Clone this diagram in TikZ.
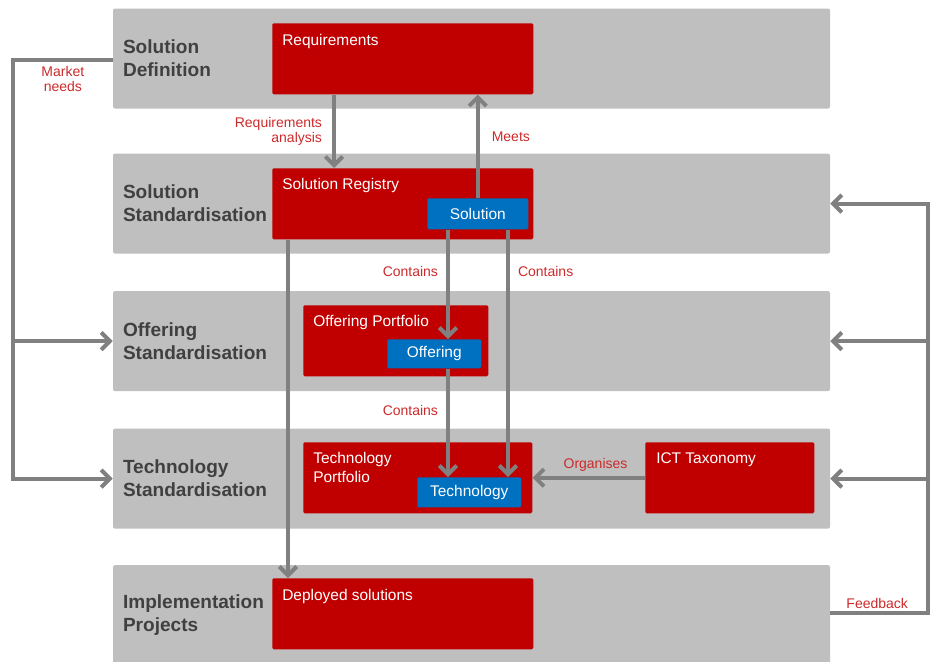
\documentclass[tikz,border=0pt]{standalone}
\usepackage{fontspec}
\setmainfont{Liberation Sans}
\usetikzlibrary{positioning,arrows.meta}
\definecolor{bandgray}{HTML}{BFBFBF}
\definecolor{boxred}{HTML}{C00000}
\definecolor{itemblue}{HTML}{0070C0}
\definecolor{linegray}{HTML}{808080}
\definecolor{titlegray}{HTML}{404040}
\definecolor{lblred}{HTML}{CC2A2A}
\tikzstyle{band} = [fill=bandgray, rounded corners=1.5pt,
    minimum width=537.75pt, minimum height=75pt, inner sep=7.5pt,
    text width=522.75pt, align=left, text=titlegray,
    font=\fontsize{14.3}{17.25}\selectfont\bfseries]
\tikzstyle{block} = [fill=boxred, rounded corners=1pt,
    minimum height=53.25pt, anchor=north west]
\tikzstyle{item} = [fill=itemblue, rounded corners=1pt, text=white,
    font=\fontsize{11.6}{14}\selectfont, anchor=north west, inner sep=0pt]
\tikzstyle{boxtext} = [text=white, font=\fontsize{11.6}{14.25}\selectfont,
    anchor=base west, inner sep=0pt, align=left]
\tikzstyle{lbl} = [text=lblred, font=\fontsize{10.5}{11.25}\selectfont, inner sep=1pt]
\tikzstyle{link} = [draw=linegray, line width=3pt, ->]

\begin{document}
\begin{tikzpicture}[x=0.75pt, y=-0.75pt, >={Straight Barb[length=6.5pt,width=13pt]}]
    \useasboundingbox (0,0) rectangle (934,661);
    % The five layers, one below the other
    \node [band] (sdef) at (471.5,58.5) {Solution\\Definition};
    \node [band, below=33.4pt of sdef] (sstd) {Solution\\Standardisation};
    \node [band, below=27.75pt of sstd] (ostd) {Offering\\Standardisation};
    \node [band, below=27.75pt of ostd] (tstd) {Technology\\Standardisation};
    \node [band, below=27pt of tstd] (impl) {Implementation\\Projects};

    % The red containers and their titles
    \node [block, minimum width=195.75pt] (req) at (272,23) {};
    \node [boxtext] (reqt) at (282,45.5) {Requirements};
    \node [block, minimum width=195.75pt] (reg) at (272,168) {};
    \node [boxtext] (regt) at (282,189.5) {Solution Registry};
    \node [block, minimum width=138.75pt] (offp) at (303,305) {};
    \node [boxtext] (offpt) at (313,326.5) {Offering Portfolio};
    \node [block, minimum width=171.75pt] (techp) at (303,442) {};
    \node [boxtext, anchor=north west] (techpt) at (313,452) {Technology\\Portfolio};
    \node [block, minimum width=126.75pt] (ict) at (645,442) {};
    \node [boxtext] (ictt) at (656,463.5) {ICT Taxonomy};
    \node [block, minimum width=195.75pt] (dep) at (272,578) {};
    \node [boxtext] (dept) at (282,600.5) {Deployed solutions};

    % The blue items inside them
    \node [item, minimum width=75.75pt, minimum height=23.25pt] (sol) at (427,198) {Solution};
    \node [item, minimum width=70.5pt, minimum height=21.75pt] (off) at (387,339) {Offering};
    \node [item, minimum width=78pt, minimum height=22.5pt] (tech) at (417,477) {Technology};

    % x positions of the vertical connectors
    \coordinate (xa) at (334,0);
    \coordinate (xb) at (448,0);
    \coordinate (xc) at (508,0);
    \coordinate (xd) at (288,0);
    \draw [link] (req.south -| xa) -- node [lbl, left=6.5pt, align=right]
        {Requirements\\analysis} (reg.north -| xa);
    \draw [link] (sol.north) -- node [lbl, right=8pt, pos=0.59] {Meets}
        (req.south -| sol.north);
    \draw [link] (sol.south -| xb) -- node [lbl, left=5pt, pos=0.38] {Contains}
        (off.north -| xb);
    \draw [link] (sol.south -| xc) -- node [lbl, right=5pt, pos=0.17] {Contains}
        (tech.north -| xc);
    \draw [link] (off.south -| xb) -- node [lbl, left=5pt, pos=0.39] {Contains}
        (tech.north -| xb);
    \draw [link] (ict.west) -- node [lbl, above=2pt, pos=0.44] {Organises}
        (techp.east |- ict.west);
    \draw [link] (reg.south -| xd) -- (dep.north -| xd);

    % Market needs on the left, feedback on the right
    \coordinate (lft) at (13,60);
    \draw [link] (sdef.west |- lft) -- node [lbl, below=2pt, align=center]
        {Market\\needs} (lft) |- (tstd.west);
    \draw [link] (lft |- ostd.west) -- (ostd.west);
    \coordinate (rgt) at (928,613);
    \draw [link] (impl.east |- rgt) -- node [lbl, above=1pt, pos=0.48] {Feedback}
        (rgt) |- (sstd.east);
    \draw [link] (rgt |- ostd.east) -- (ostd.east);
    \draw [link] (rgt |- tstd.east) -- (tstd.east);
\end{tikzpicture}
\end{document}
